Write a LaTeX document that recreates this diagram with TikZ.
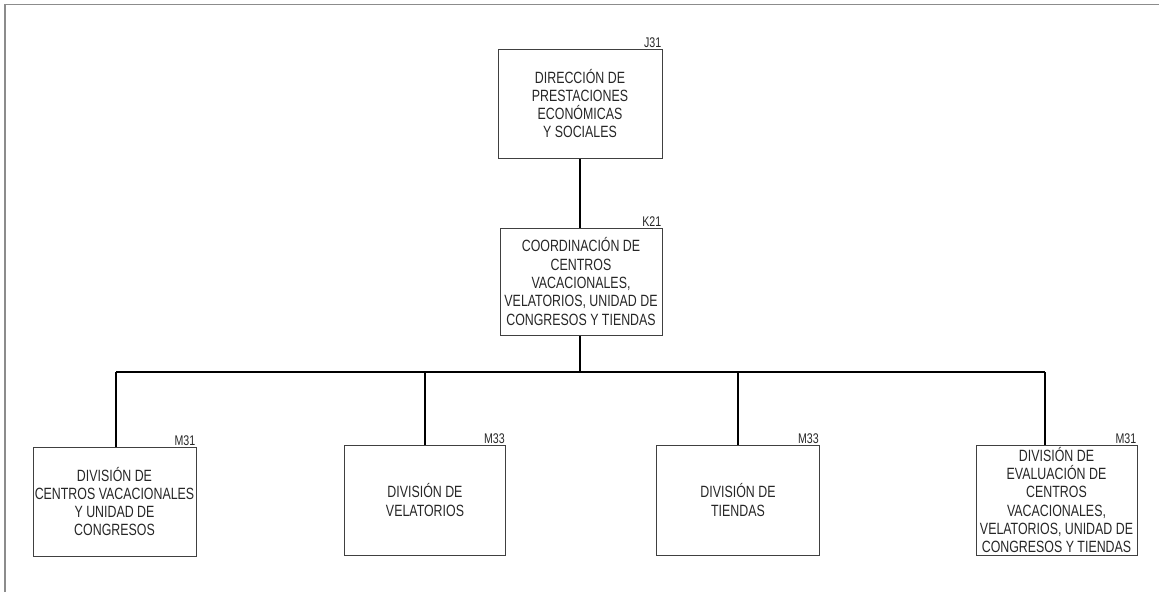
\documentclass[tikz,border=0pt]{standalone}
\usepackage{fontspec}
\setmainfont{Liberation Sans}[FakeStretch=0.76]
\begin{document}
\begin{tikzpicture}[x=1pt,y=-1pt,
  unit/.style={draw=black!75,line width=1pt,minimum width=#1,inner sep=0pt,align=center,
    font=\fontsize{16.3}{18.3}\selectfont,text=black!85},
  unit/.default=164pt,
  code/.style={font=\fontsize{14}{15}\selectfont,anchor=south east,inner sep=1pt,text=black!85},
  link/.style={line width=1.6pt,black}]
\useasboundingbox (0,0) rectangle (1159,592);
\draw[black!45,line width=1.5pt] (5,592) -- (5,4.5) -- (1159,4.5);
% top
\node[unit,minimum height=109pt] (j31) at (580,103.5) {DIRECCIÓN DE\\PRESTACIONES\\ECONÓMICAS\\Y SOCIALES};
\node[code] at (j31.north east) {J31};
\node[unit,minimum width=162pt,minimum height=107pt] (k21) at (581,281.5) {COORDINACIÓN DE\\CENTROS\\VACACIONALES,\\VELATORIOS, UNIDAD DE\\CONGRESOS Y TIENDAS};
\node[code] at (k21.north east) {K21};
% bottom
\node[unit,minimum width=163pt,minimum height=109pt] (m1) at (114.5,501.5) {DIVISIÓN DE\\CENTROS VACACIONALES\\Y UNIDAD DE\\CONGRESOS};
\node[code] at (m1.north east) {M31};
\node[unit,minimum width=161pt,minimum height=110pt] (m2) at (425,500) {DIVISIÓN DE\\VELATORIOS};
\node[code] at (m2.north east) {M33};
\node[unit,minimum width=163pt,minimum height=110pt] (m3) at (738,500) {DIVISIÓN DE\\TIENDAS};
\node[code] at (m3.north east) {M33};
\node[unit,minimum width=161pt,minimum height=110pt] (m4) at (1056.5,500) {DIVISIÓN DE\\EVALUACIÓN DE\\CENTROS\\VACACIONALES,\\VELATORIOS, UNIDAD DE\\CONGRESOS Y TIENDAS};
\node[code] at (m4.north east) {M31};
% connectors
\coordinate (bus) at (580,372);
\coordinate (d1) at (116,372);
\coordinate (d2) at (425,372);
\coordinate (d3) at (738,372);
\coordinate (d4) at (1045,372);
\draw[link] (j31.south) -- (j31.south |- k21.north);
\draw[link] (k21.south -| bus) -- (bus);
\draw[link] (d1) -- (d4);
\draw[link] (d1) -- (d1 |- m1.north);
\draw[link] (d2) -- (d2 |- m2.north);
\draw[link] (d3) -- (d3 |- m3.north);
\draw[link] (d4) -- (d4 |- m4.north);
\end{tikzpicture}
\end{document}
